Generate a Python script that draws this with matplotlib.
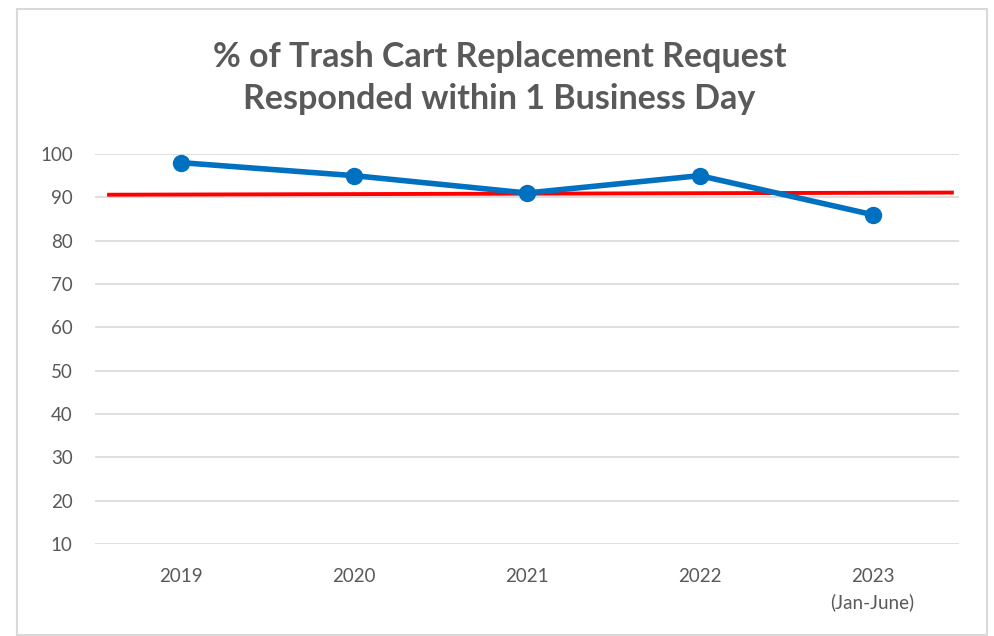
import numpy as np
import matplotlib.pyplot as plt
from matplotlib.patches import Rectangle

# data
years = ['2019', '2020', '2021', '2022', '2023\n(Jan-June)']
pct = [98, 95, 91, 95, 86]

# red reference line (slight slope), x in category units
red_x = [-0.43, 4.47]
red_y = [90.6, 91.1]

yticks = [10, 20, 30, 40, 50, 60, 70, 80, 90, 100]

grey = '#595959'
plt.rcParams['font.family'] = ['Lato', 'DejaVu Sans']

fig = plt.figure(figsize=(9.94, 6.36), dpi=100)
ax = fig.add_axes([95/994, 1-544/636, 864/994, 390/636])

# outer frame like the excel chart area
fig.patches.append(Rectangle((17/994, 1/636), 970/994, 626/636, transform=fig.transFigure,
                             fill=False, edgecolor='#d9d9d9', linewidth=1.5))

x = np.arange(len(years))
ax.plot(red_x, red_y, color='#ff0000', lw=2.8, zorder=3, solid_capstyle='butt')
ax.plot(x, pct, color='#0070c0', lw=4, marker='o', ms=11.5, zorder=4)

ax.set_xlim(-0.5, 4.5)
ax.set_ylim(10, 100)
ax.set_yticks(yticks)
ax.set_xticks(x)
ax.set_xticklabels(years, fontsize=13.5, color=grey, linespacing=1.55)
ax.tick_params(axis='y', labelsize=13.5, labelcolor=grey, length=0, pad=16)
ax.tick_params(axis='x', length=0, pad=17)
ax.grid(axis='y', color='#d9d9d9', lw=1.2)
ax.set_axisbelow(True)
for s in ax.spines.values():
    s.set_visible(False)

fig.text(0.5025, 1-78/636, '% of Trash Cart Replacement Request\nResponded within 1 Business Day',
         ha='center', va='center', fontsize=24.5, fontweight='bold', color=grey, linespacing=1.38)

fig.savefig('out.png', dpi=100)
